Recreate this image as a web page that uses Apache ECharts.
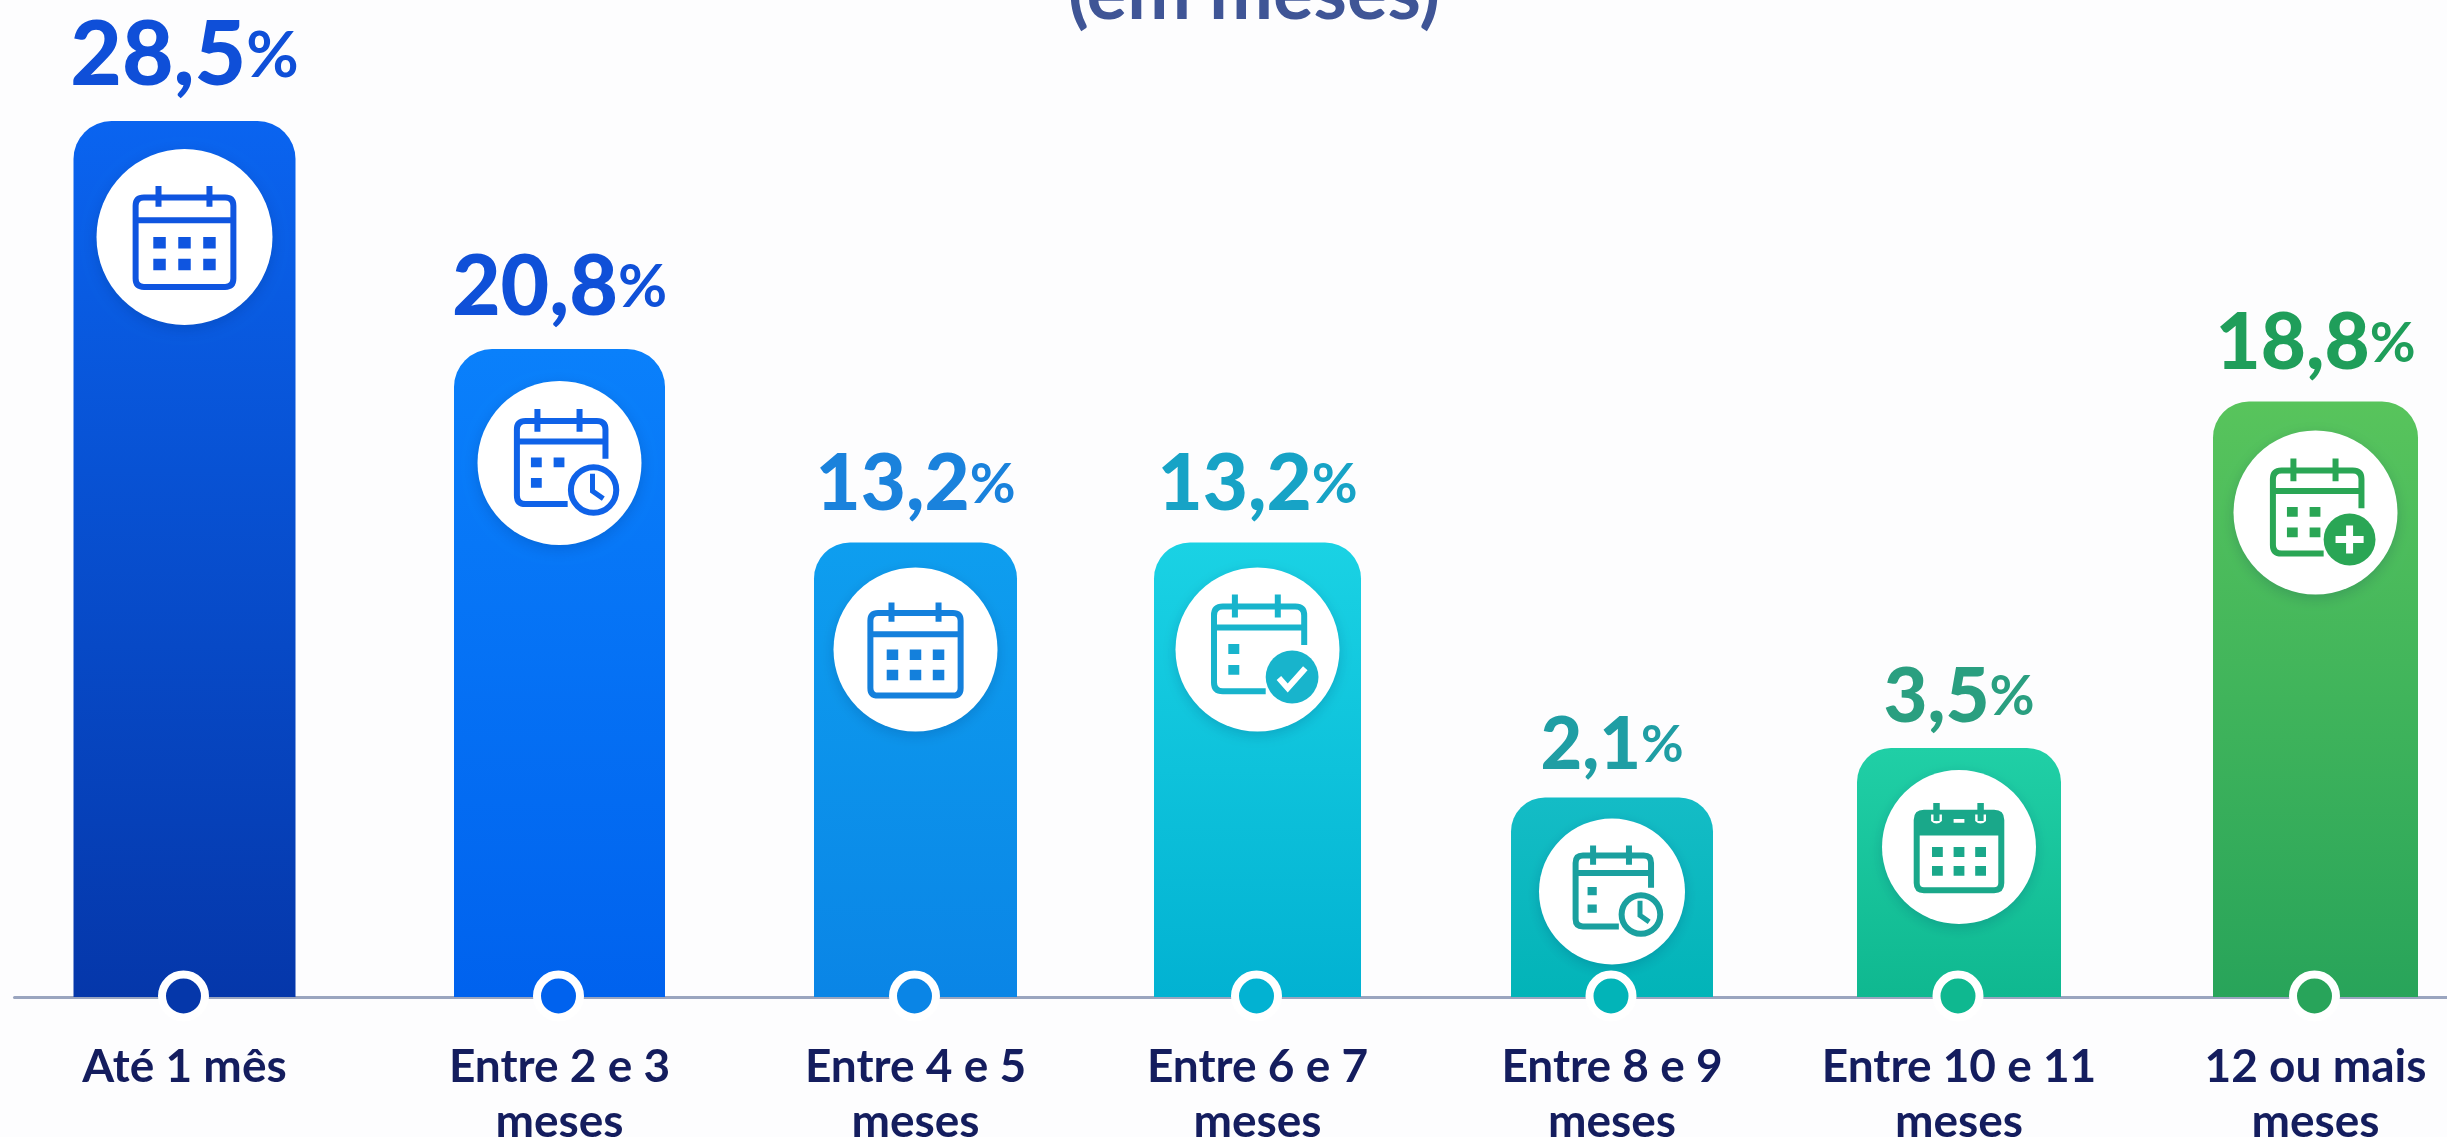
<!DOCTYPE html>
<html>
<head>
<meta charset="utf-8">
<title>Tempo em meses</title>
<script src="https://cdn.jsdelivr.net/npm/echarts@6/dist/echarts.min.js"></script>
<style>
  html, body { margin: 0; background: #fdfdfe; }
  #main { width: 2447px; height: 1137px; }
</style>
</head>
<body>
<div id="main"></div>
<script>
const categories = ['Até 1 mês', 'Entre 2 e 3\nmeses', 'Entre 4 e 5\nmeses', 'Entre 6 e 7\nmeses', 'Entre 8 e 9\nmeses', 'Entre 10 e 11\nmeses', '12 ou mais\nmeses'];
// percentuais impressos sobre as barras
const percents = [28.5, 20.8, 13.2, 13.2, 2.1, 3.5, 18.8];
// no original as barras nao seguem a escala dos percentuais: altura
const barHeights = [29.2, 21.6, 15.15, 15.15, 6.65, 8.3, 19.85];

// layout de cada barra (nao e dado)
const centers = [184.5, 559.5, 915.5, 1257.5, 1612, 1959, 2315.5];
const halfSlots = [170, 205, 190, 190, 190, 230, 131.5];
const barWidths = [222, 211, 203, 207, 202, 204, 205];
const radii = [38, 38, 36, 36, 34, 34, 36];
const circleDrops = [116, 114, 107, 107, 94, 99, 111];
const circleSizes = [176, 164, 164, 164, 146, 154, 164];
const iconSizes = [104, 108, 96, 110, 92, 90, 108];
const labelSizes = [89, 84, 78, 78, 72, 76, 78];
const labelGaps = [20, 19, 19, 19, 16, 13, 19];

const topColors = ['#0a64f0', '#0a80fb', '#0e9eef', '#1ad2e4', '#14bcc6', '#20cfa6', '#58c45c'];
const bottomColors = ['#0537aa', '#0062ee', '#0a85e6', '#02b2d2', '#02b4b8', '#0fb890', '#28a45a'];
const labelColors = ['#0f4fd8', '#0f50d8', '#1a82dc', '#17a3c6', '#1f9ea4', '#2a9f80', '#1f9e5a'];
const iconColors = ['#0f55e0', '#0f62e8', '#1480dc', '#18b4cc', '#1aa09f', '#1aa88a', '#2aa655'];

// icones no quadro 0-100; os cantos M0 0 e M100 100 mantem todas as camadas no mesmo quadro
const box = 'M0 0L0 0M100 100L100 100';
const bodyFull = 'M11 12H89Q97 12 97 20V90Q97 98 89 98H11Q3 98 3 90V20Q3 12 11 12ZM3 34H97M25 1V21M74 1V21';
const bodyOpen = 'M52 88H13Q5 88 5 80V19Q5 11 13 11H79Q87 11 87 19V46M5 30H87M24 0V21M63 0V21';
const dots6 = 'M20 50h12v11h-12zM44 50h12v11h-12zM68 50h12v11h-12zM20 71h12v11h-12zM44 71h12v11h-12zM68 71h12v11h-12z';
const dots3 = 'M18 45h10v9h-10zM39 45h10v9h-10zM18 64h10v9h-10z';
const dots2 = 'M18 45h10v9h-10zM18 64h10v9h-10z';
const dots4 = 'M18 45h10v9h-10zM39 45h10v9h-10zM18 64h10v9h-10zM39 64h10v9h-10z';
const header = 'M11 12H89Q97 12 97 20V34H3V20Q3 12 11 12Z';
const notches = 'M19 14h12v7q-6 6-12 0zM68 14h12v7q-6 6-12 0zM44 19h12v4h-12z';
const badge = 'M76 51A24 24 0 1 1 76 99A24 24 0 1 1 76 51Z';

const plain = [{ d: bodyFull, line: 6 }, { d: dots6 }];
const solidTop = [{ d: bodyFull, line: 6 }, { d: header }, { d: notches, white: true }, { d: 'M25 1V21M74 1V21', line: 6 }, { d: dots6 }];
const clock = function (dots) {
  return [{ d: bodyOpen, line: 6 }, { d: dots }, { d: 'M76 54A21 21 0 1 1 76 96A21 21 0 1 1 76 54Z', line: 6 }, { d: 'M75 60V76L85 83', line: 5 }];
};
const check = [{ d: bodyOpen, line: 6 }, { d: dots2 }, { d: badge }, { d: 'M64 76L72 85L88 67', line: 6, white: true }];
const plus = [{ d: bodyOpen, line: 6 }, { d: dots4 }, { d: badge }, { d: 'M76 62V88M63 75H89', line: 7, white: true }];
const icons = [plain, clock(dots3), plain, check, clock(dots2), solidTop, plus];
const iconShift = [0, 6, 0, 6, 5, 0, 6];

const grids = [], xAxes = [], yAxes = [], series = [];

categories.forEach(function (name, i) {
  grids.push({ left: centers[i] - halfSlots[i], width: halfSlots[i] * 2, top: 97, height: 900, outerBoundsMode: 'none' });
  xAxes.push({
    gridIndex: i,
    type: 'category',
    data: [name],
    axisLine: { lineStyle: { color: '#9aa5bf', width: 3 } },
    axisTick: { show: false },
    axisLabel: { interval: 0, margin: 43, fontFamily: 'Lato', fontWeight: 'bold', fontSize: 46, lineHeight: 55, color: '#141d5e', verticalAlign: 'top' }
  });
  yAxes.push({ gridIndex: i, type: 'value', min: 0, max: 30, show: false });

  const pct = String(percents[i]).replace('.', ',');
  series.push({
    type: 'bar',
    xAxisIndex: i,
    yAxisIndex: i,
    barWidth: barWidths[i],
    silent: true,
    itemStyle: {
      borderRadius: [radii[i], radii[i], 0, 0],
      color: new echarts.graphic.LinearGradient(0, 0, 0, 1, [
        { offset: 0, color: topColors[i] },
        { offset: 1, color: bottomColors[i] }
      ])
    },
    label: {
      show: true,
      position: 'top',
      distance: labelGaps[i],
      formatter: '{n|' + pct + '}{p|%}',
      rich: {
        n: { fontFamily: 'Lato', fontWeight: 900, fontSize: labelSizes[i], color: labelColors[i] },
        p: { fontFamily: 'Lato', fontWeight: 700, fontSize: Math.round(labelSizes[i] * 0.72), color: labelColors[i] }
      }
    },
    data: [barHeights[i]]
  });

  // circulo branco e icone presos ao topo da barra
  series.push({
    type: 'scatter',
    xAxisIndex: i,
    yAxisIndex: i,
    silent: true,
    z: 3,
    symbol: 'circle',
    symbolSize: circleSizes[i],
    symbolOffset: [0, circleDrops[i]],
    itemStyle: { color: '#fff', opacity: 1, shadowBlur: 14, shadowOffsetY: 4, shadowColor: 'rgba(0,30,80,0.18)' },
    data: [barHeights[i]]
  });
  icons[i].forEach(function (layer, k) {
    const paint = layer.white ? '#fff' : iconColors[i];
    series.push({
      type: 'scatter',
      xAxisIndex: i,
      yAxisIndex: i,
      silent: true,
      z: 4 + k,
      symbol: 'path://' + box + layer.d,
      symbolKeepAspect: true,
      symbolSize: iconSizes[i],
      symbolOffset: [iconShift[i], circleDrops[i]],
      itemStyle: layer.line
        ? { color: 'rgba(0,0,0,0)', borderColor: paint, borderWidth: layer.line, opacity: 1 }
        : { color: paint, opacity: 1 },
      data: [barHeights[i]]
    });
  });

  // marcador sobre a linha de base
  series.push({
    type: 'scatter',
    xAxisIndex: i,
    yAxisIndex: i,
    silent: true,
    z: 3,
    symbol: 'circle',
    symbolSize: 43,
    symbolOffset: [-1, -1],
    itemStyle: { color: bottomColors[i], borderColor: '#fff', borderWidth: 8, opacity: 1 },
    data: [0]
  });
});

const myChart = echarts.init(document.getElementById('main'), null, { renderer: 'canvas' });
myChart.setOption({
  animation: false,
  backgroundColor: '#fdfdfe',
  title: {
    text: '(em meses)',
    left: 1249,
    top: -49,
    textAlign: 'center',
    textStyle: { fontFamily: 'Lato', fontWeight: 'bold', fontSize: 76, color: '#3f5596' }
  },
  grid: grids,
  xAxis: xAxes,
  yAxis: yAxes,
  series: series
});
</script>
</body>
</html>
